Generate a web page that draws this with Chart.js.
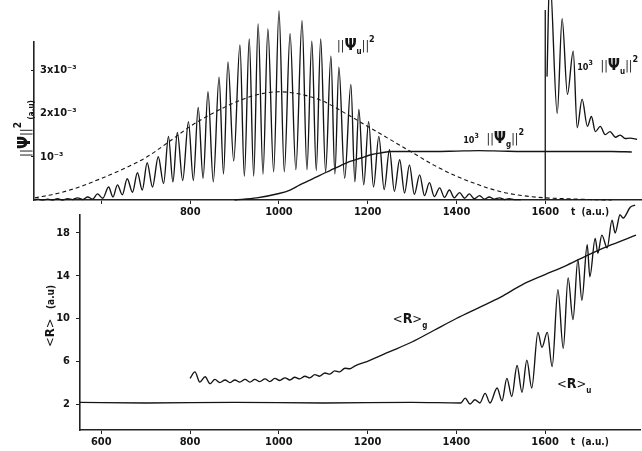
<!DOCTYPE html>
<html lang="en">
<head>
  <meta charset="UTF-8" />
  <title>Wave packet populations and mean distance</title>
  <script src="https://cdn.jsdelivr.net/npm/chart.js"></script>
  <style>
    body { margin: 0; background: #fff; }
    .panel { position: absolute; left: 0; width: 642px; }
    #topPanel { top: 0; height: 222px; }
    #bottomPanel { top: 200px; height: 251px; }
  </style>
</head>
<body>
  <div class="panel" id="topPanel"><canvas id="psiChart"></canvas></div>
  <div class="panel" id="bottomPanel"><canvas id="rChart"></canvas></div>

  <script>
    // ---- top panel, |psi|^2 in units of 1e-3 ----
    const psiUT = [450, 456, 467, 479, 490, 501, 512, 524, 535, 546, 558, 569, 580, 591, 603, 616, 626, 636, 647, 658,
                   670, 681, 692, 703, 715, 728, 740, 751, 761, 771, 783, 796, 807, 818, 829, 840, 852, 865, 875, 885,
                   898, 912, 922, 933, 943, 953, 964, 975, 988, 1000, 1012, 1025, 1038, 1052, 1063, 1074, 1084, 1094, 1105, 1117,
                   1126, 1135, 1148, 1162, 1171, 1180, 1191, 1202, 1213, 1225, 1237, 1249, 1260, 1272, 1283, 1294, 1305, 1317, 1328, 1339,
                   1350, 1362, 1373, 1384, 1395, 1407, 1418, 1429, 1440, 1452, 1463, 1474, 1485, 1497, 1508, 1519, 1530, 1545];
    const psiUV = [0.0, 0.02, 0.0, 0.02, 0.0, 0.03, 0.0, 0.03, 0.01, 0.05, 0.01, 0.07, 0.02, 0.14, 0.04, 0.30, 0.07, 0.35, 0.12, 0.49,
                   0.18, 0.63, 0.23, 0.86, 0.30, 1.00, 0.38, 1.47, 0.42, 1.56, 0.45, 1.81, 0.45, 2.14, 0.50, 2.50, 0.42, 2.84, 0.60, 3.19,
                   0.90, 3.58, 0.55, 3.72, 0.55, 4.07, 0.60, 3.95, 0.65, 4.37, 0.65, 3.84, 0.70, 4.14, 0.70, 3.67, 0.68, 3.72, 0.65, 3.33,
                   0.60, 3.07, 0.50, 2.67, 0.42, 2.09, 0.35, 1.81, 0.30, 1.47, 0.24, 1.16, 0.20, 0.93, 0.16, 0.81, 0.13, 0.58, 0.10, 0.40,
                   0.08, 0.28, 0.06, 0.23, 0.05, 0.17, 0.04, 0.14, 0.03, 0.10, 0.02, 0.07, 0.02, 0.05, 0.01, 0.03, 0.01, 0.01];

    const envT = [450, 500, 550, 600, 650, 700, 750, 800, 850, 900, 950, 1000, 1050, 1100, 1150, 1200, 1250, 1300, 1350, 1400,
                  1450, 1500, 1550, 1600, 1650, 1700, 1750];
    const envV = [0.05, 0.15, 0.30, 0.50, 0.72, 0.98, 1.33, 1.70, 2.00, 2.25, 2.43, 2.50, 2.44, 2.28, 2.00, 1.70, 1.40, 1.10, 0.80, 0.55,
                  0.35, 0.19, 0.10, 0.05, 0.03, 0.01, 0.0];

    // 10^3 |psi_g|^2
    const psiGT = [900, 950, 1000, 1025, 1047, 1070, 1092, 1115, 1140, 1160, 1185, 1205, 1230, 1255, 1300, 1350, 1400, 1450, 1500, 1550,
                   1600, 1650, 1700, 1750, 1795];
    const psiGV = [0.0, 0.05, 0.15, 0.23, 0.35, 0.46, 0.57, 0.68, 0.80, 0.89, 0.97, 1.04, 1.09, 1.12, 1.12, 1.12, 1.13, 1.14, 1.13, 1.12,
                   1.12, 1.12, 1.12, 1.12, 1.11];

    // 10^3 |psi_u|^2 after t = 1600
    const psiZT = [1604, 1610, 1627, 1638, 1650, 1663, 1672, 1683, 1695, 1704, 1713, 1724, 1735, 1746, 1758, 1769, 1780, 1791, 1807];
    const psiZV = [2.85, 5.2, 2.0, 4.19, 2.44, 3.44, 1.67, 2.33, 1.70, 1.93, 1.58, 1.70, 1.51, 1.58, 1.45, 1.50, 1.42, 1.43, 1.40];

    const splitT = [1600, 1600];
    const splitV = [0, 4.39];

    const topXTicks = [600, 800, 1000, 1200, 1400, 1600];
    const topYTicks = [1, 2, 3];
    const topYLabels = ['10⁻³', '2x10⁻³', '3x10⁻³'];

    // ---- bottom panel, <R> ----
    const rUT = [552, 700, 900, 1100, 1300, 1410, 1420, 1431, 1442, 1453, 1465, 1476, 1492, 1503, 1514, 1525, 1537, 1548, 1559, 1570,
                 1584, 1593, 1605, 1616, 1629, 1641, 1652, 1663, 1674, 1683, 1695, 1701, 1713, 1719, 1728, 1740, 1751, 1758, 1769, 1776,
                 1792, 1803];
    const rUV = [2.15, 2.1, 2.15, 2.1, 2.15, 2.1, 2.55, 2.0, 2.4, 2.1, 3.0, 2.1, 3.5, 2.3, 4.4, 2.7, 5.6, 3.1, 6.1, 3.5,
                 8.7, 7.3, 8.7, 5.5, 12.7, 7.2, 13.8, 9.9, 15.5, 11.7, 16.9, 13.9, 17.5, 16.1, 17.8, 16.6, 19.2, 18.0, 19.7, 19.4,
                 20.4, 20.6];

    const rGT = [800, 811, 822, 834, 845, 856, 867, 879, 890, 901, 912, 924, 935, 946, 957, 969, 980, 991, 1002, 1014,
                 1025, 1036, 1047, 1059, 1070, 1081, 1092, 1104, 1115, 1126, 1137, 1149, 1160, 1171, 1200, 1250, 1300, 1350, 1400, 1450,
                 1500, 1550, 1600, 1650, 1700, 1750, 1805];
    const rGV = [4.4, 5.0, 4.05, 4.55, 3.9, 4.3, 4.0, 4.25, 4.0, 4.25, 4.05, 4.3, 4.05, 4.3, 4.1, 4.35, 4.1, 4.4, 4.2, 4.45,
                 4.25, 4.5, 4.35, 4.6, 4.45, 4.75, 4.6, 4.9, 4.8, 5.1, 5.0, 5.35, 5.3, 5.55, 6.0, 6.9, 7.8, 8.9, 10.0, 11.0,
                 12.0, 13.2, 14.1, 15.0, 16.0, 16.9, 17.8];

    const botXTicks = [600, 800, 1000, 1200, 1400, 1600];
    const botYTicks = [2, 6, 10, 14, 18];

    const INK = '#141414';
    const COND = '"DejaVu Sans Condensed", "DejaVu Sans", sans-serif';
    Chart.defaults.font.family = COND;
    Chart.defaults.font.weight = 'bold';
    Chart.defaults.font.size = 11;
    Chart.defaults.color = INK;

    const pts = (ts, vs) => ts.map((t, i) => ({ x: t, y: vs[i] }));

    function line(data, extra) {
      return Object.assign({
        data: data,
        borderColor: INK,
        borderWidth: 1.35,
        pointRadius: 0,
        cubicInterpolationMode: 'monotone',
        clip: false
      }, extra || {});
    }

    // draw a run of text pieces: [text, size, dy, weight]
    function rich(ctx, parts, x, y) {
      let cx = x;
      parts.forEach(([txt, size, dy, weight]) => {
        ctx.font = weight + ' ' + size + 'px ' + COND;
        ctx.fillText(txt, cx, y + dy);
        cx += ctx.measureText(txt).width;
      });
    }

    function psiLabel(sub) {
      return [['||', 12, 0, 'normal'], ['Ψ', 16, 0, 'bold'], [sub, 8, 4, 'bold'], ['||', 12, 0, 'normal'], ['2', 9, -8, 'bold']];
    }

    function rLabel(sub) {
      return [['<', 13, 0, 'normal'], ['R', 14, 0, 'bold'], ['>', 13, 0, 'normal'], [sub, 8, 5, 'bold']];
    }

    const topText = {
      id: 'topText',
      afterDraw(chart) {
        const { ctx, chartArea } = chart;
        const x = chart.scales.x, y = chart.scales.y;
        ctx.save();
        ctx.fillStyle = INK;
        ctx.textAlign = 'left';
        ctx.textBaseline = 'alphabetic';
        rich(ctx, psiLabel('u'), x.getPixelForValue(1131), y.getPixelForValue(3.46));
        rich(ctx, [['10', 9, 0, 'bold'], ['3', 7, -5, 'bold'], ['   ', 9, 0, 'normal']].concat(psiLabel('g')),
          x.getPixelForValue(1415), y.getPixelForValue(1.32));
        rich(ctx, [['10', 9, 0, 'bold'], ['3', 7, -5, 'bold'], ['   ', 9, 0, 'normal']].concat(psiLabel('u')),
          x.getPixelForValue(1672), y.getPixelForValue(3.0));
        rich(ctx, [['t  (a.u.)', 10, 0, 'bold']], x.getPixelForValue(1658), chartArea.bottom + 15);
        ctx.translate(30, 157);
        ctx.rotate(-Math.PI / 2);
        rich(ctx, [['||', 13, 0, 'normal'], ['Ψ', 17, 0, 'bold'], ['||', 13, 0, 'normal'], ['2', 10, -9, 'bold'], [' (a.u)', 8, 4, 'bold']], 0, 0);
        ctx.restore();
      }
    };

    const bottomText = {
      id: 'bottomText',
      afterDraw(chart) {
        const { ctx, chartArea } = chart;
        const x = chart.scales.x, y = chart.scales.y;
        ctx.save();
        ctx.fillStyle = INK;
        ctx.textAlign = 'left';
        ctx.textBaseline = 'alphabetic';
        rich(ctx, rLabel('g'), x.getPixelForValue(1257), y.getPixelForValue(9.58));
        rich(ctx, rLabel('u'), x.getPixelForValue(1627), y.getPixelForValue(3.5));
        rich(ctx, [['t  (a.u.)', 10, 0, 'bold']], x.getPixelForValue(1658), chartArea.bottom + 15);
        ctx.translate(54, 147);
        ctx.rotate(-Math.PI / 2);
        rich(ctx, [['<', 13, 0, 'normal'], ['R', 13, 0, 'bold'], ['>', 13, 0, 'normal'], ['   (a.u)', 10, 0, 'bold']], 0, 0);
        ctx.restore();
      }
    };

    const axisLine = { color: '#222', width: 1.6 };

    new Chart(document.getElementById('psiChart'), {
      type: 'line',
      data: {
        datasets: [
          line(pts(psiUT, psiUV)),
          line(pts(envT, envV), { borderDash: [4, 3], borderWidth: 1.1 }),
          line(pts(psiGT, psiGV)),
          line(pts(psiZT, psiZV)),
          line(pts(splitT, splitV), { borderWidth: 1.3, cubicInterpolationMode: 'default' })
        ]
      },
      options: {
        responsive: true,
        maintainAspectRatio: false,
        animation: false,
        layout: { padding: { top: 42, right: 0, bottom: 0, left: 0 } },
        plugins: { legend: { display: false }, tooltip: { enabled: false } },
        scales: {
          x: {
            type: 'linear', min: 448, max: 1818,
            afterBuildTicks: s => { s.ticks = topXTicks.map(v => ({ value: v })); },
            afterFit: s => { s.height = 22; },
            border: axisLine,
            grid: { drawOnChartArea: false, tickLength: 4, color: '#222' },
            ticks: { padding: 2, maxRotation: 0, callback: v => (v < 700 ? '' : String(v)) }
          },
          y: {
            type: 'linear', min: 0, max: 3.65,
            afterBuildTicks: s => { s.ticks = topYTicks.map(v => ({ value: v })); },
            afterFit: s => { s.width = 34; },
            border: axisLine,
            grid: { drawOnChartArea: false, tickLength: 3, color: '#222' },
            ticks: { mirror: true, padding: 6, callback: v => topYLabels[topYTicks.indexOf(v)] }
          }
        }
      },
      plugins: [topText]
    });

    new Chart(document.getElementById('rChart'), {
      type: 'line',
      data: {
        datasets: [
          line(pts(rUT, rUV)),
          line(pts(rGT, rGV))
        ]
      },
      options: {
        responsive: true,
        maintainAspectRatio: false,
        animation: false,
        layout: { padding: { top: 15, right: 2, bottom: 0, left: 0 } },
        plugins: { legend: { display: false }, tooltip: { enabled: false } },
        scales: {
          x: {
            type: 'linear', min: 552, max: 1814,
            afterBuildTicks: s => { s.ticks = botXTicks.map(v => ({ value: v })); },
            afterFit: s => { s.height = 21; },
            border: axisLine,
            grid: { drawOnChartArea: false, tickLength: 4, color: '#222' },
            ticks: { padding: 2, maxRotation: 0, callback: v => String(v) }
          },
          y: {
            type: 'linear', min: -0.43, max: 19.68,
            afterBuildTicks: s => { s.ticks = botYTicks.map(v => ({ value: v })); },
            afterFit: s => { s.width = 80; },
            border: axisLine,
            grid: { drawOnChartArea: false, tickLength: 4, color: '#222' },
            ticks: { padding: 6, callback: v => String(v) }
          }
        }
      },
      plugins: [bottomText]
    });
  </script>
</body>
</html>
